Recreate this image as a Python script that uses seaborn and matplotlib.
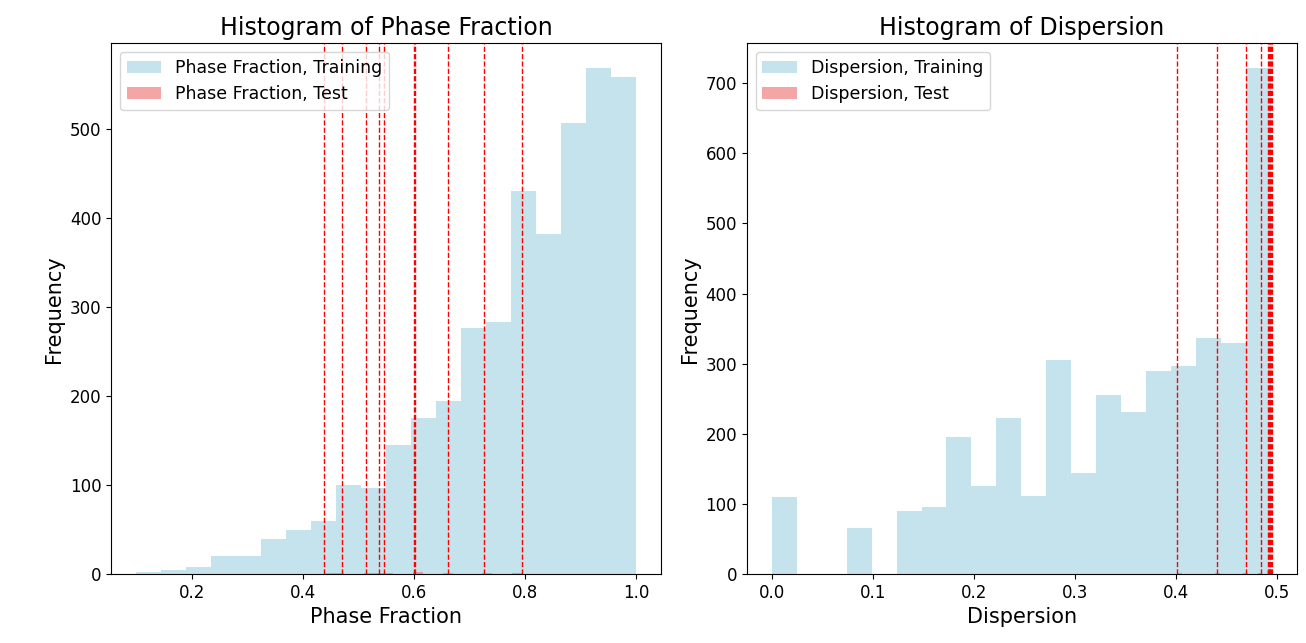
import numpy as np
import pandas as pd
import seaborn as sns
import matplotlib.pyplot as plt
from matplotlib.patches import Patch

# Training histograms (bin counts), 20 bins each
pf_range = (0.1, 1.0)
pf_train_counts = [3, 5, 8, 20, 20, 40, 50, 60, 100, 97,
                   145, 175, 195, 277, 283, 430, 382, 507, 568, 558]
pf_test = [0.439, 0.471, 0.514, 0.537, 0.547, 0.601, 0.603, 0.661, 0.727, 0.794]

disp_range = (0.0, 0.494)
disp_train_counts = [110, 0, 0, 66, 0, 90, 96, 196, 126, 222,
                     112, 305, 144, 256, 231, 290, 297, 336, 330, 721]
disp_test = [0.401, 0.441, 0.469, 0.484, 0.491, 0.492, 0.493, 0.494, 0.495]

train_color = 'lightblue'
test_color = 'lightcoral'

fig, axes = plt.subplots(1, 2, figsize=(13.06, 6.43), dpi=100)
fig.subplots_adjust(left=0.085, right=0.993, bottom=0.107, top=0.933, wspace=0.156)

panels = [
    (axes[0], 'Phase Fraction', pf_range, pf_train_counts, pf_test, [0, 100, 200, 300, 400, 500]),
    (axes[1], 'Dispersion', disp_range, disp_train_counts, disp_test, [0, 100, 200, 300, 400, 500, 600, 700]),
]

for ax, name, rng, counts, test, yticks in panels:
    edges = np.linspace(rng[0], rng[1], len(counts) + 1)
    train = pd.DataFrame({'value': (edges[:-1] + edges[1:]) / 2, 'count': counts})
    sns.histplot(data=train, x='value', weights='count', bins=len(counts), binrange=rng,
                 color=train_color, alpha=0.7, linewidth=0, ax=ax)
    sns.histplot(x=test, bins=20, color=test_color, alpha=0.7, linewidth=0, ax=ax)
    for v in test:
        ax.axvline(v, color='red', linestyle='--', linewidth=1)

    ax.set_title(f'Histogram of {name}', fontsize=17)
    ax.set_xlabel(name, fontsize=15)
    ax.set_ylabel('Frequency', fontsize=15)
    ax.set_yticks(yticks)
    ax.tick_params(labelsize=12)

    handles = [Patch(color=train_color, alpha=0.7, linewidth=0),
               Patch(color=test_color, alpha=0.7, linewidth=0)]
    ax.legend(handles, [f'{name}, Training', f'{name}, Test'],
              loc='upper left', fontsize=12.5)

plt.savefig('out.png')
